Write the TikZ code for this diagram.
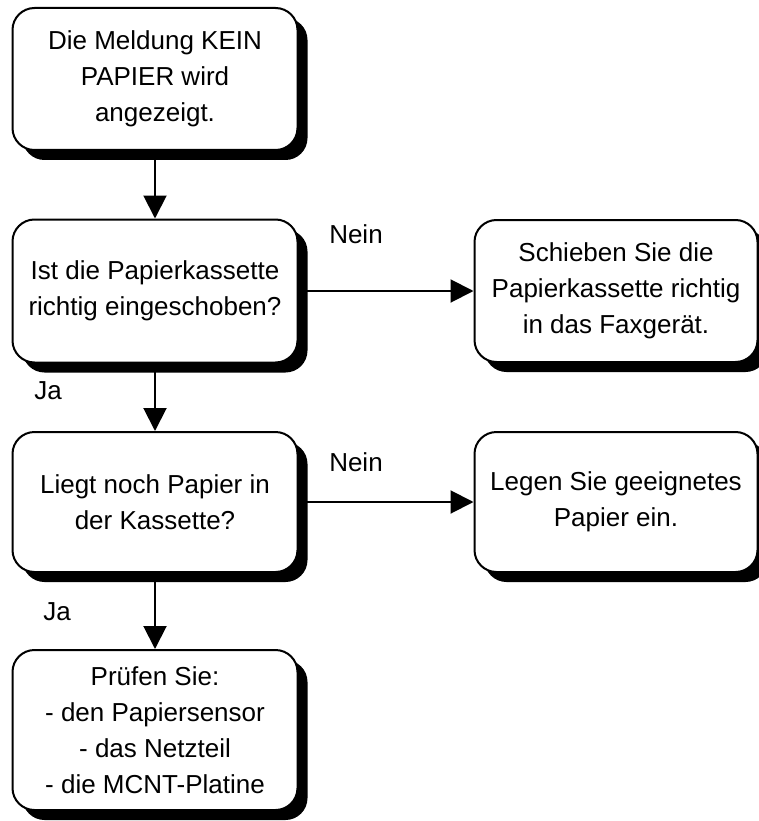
\documentclass[tikz,border=0pt]{standalone}
\usepackage{fontspec}
\setmainfont{Liberation Sans}
\usetikzlibrary{arrows.meta,shadows}
\begin{document}
\begin{tikzpicture}[x=1pt,y=-1pt,
  box/.style={draw=black, line width=2pt, fill=white, rounded corners=22pt,
    align=center, inner sep=2pt, minimum width=285pt,
    font=\fontsize{26}{36}\selectfont,
    drop shadow={shadow xshift=10pt, shadow yshift=-10pt, fill=black, opacity=1}},
  arr/.style={line width=2pt, -{Triangle[length=23pt,width=23pt]}},
  lbl/.style={font=\fontsize{26}{30}\selectfont, inner sep=0pt}]
\useasboundingbox (0,0) rectangle (759,821);
\node[box, minimum height=142pt] (b1) at (155,79) {Die Meldung KEIN\\PAPIER wird\\angezeigt.};
\node[box, minimum height=143pt] (b2) at (155,291) {Ist die Papierkassette\\richtig eingeschoben?};
\node[box, minimum height=140pt] (b3) at (155,502) {Liegt noch Papier in\\der Kassette?};
\node[box, minimum height=160pt] (b4) at (155,730) {Prüfen Sie:\\- den Papiersensor\\- das Netzteil\\- die MCNT-Platine};
\node[box, minimum height=142pt, minimum width=283pt] (r1) at (616,291) {Schieben Sie die\\Papierkassette richtig\\in das Faxgerät.};
\node[box, minimum height=140pt, minimum width=283pt] (r2) at (616,502) {Legen Sie geeignetes\\Papier ein.};
\draw[arr] (b1.south) -- (b2.north);
\draw[arr] (b2.south) -- (b3.north);
\draw[arr] (b3.south) -- (b4.north);
\draw[arr] (b2.east) -- (r1.west);
\draw[arr] (b3.east) -- (r2.west);
\node[lbl] (n1) at (356,234) {Nein};
\node[lbl] (n2) at (356,462) {Nein};
\node[lbl] (j1) at (48,391) {Ja};
\node[lbl] (j2) at (57,612) {Ja};
\end{tikzpicture}
\end{document}
